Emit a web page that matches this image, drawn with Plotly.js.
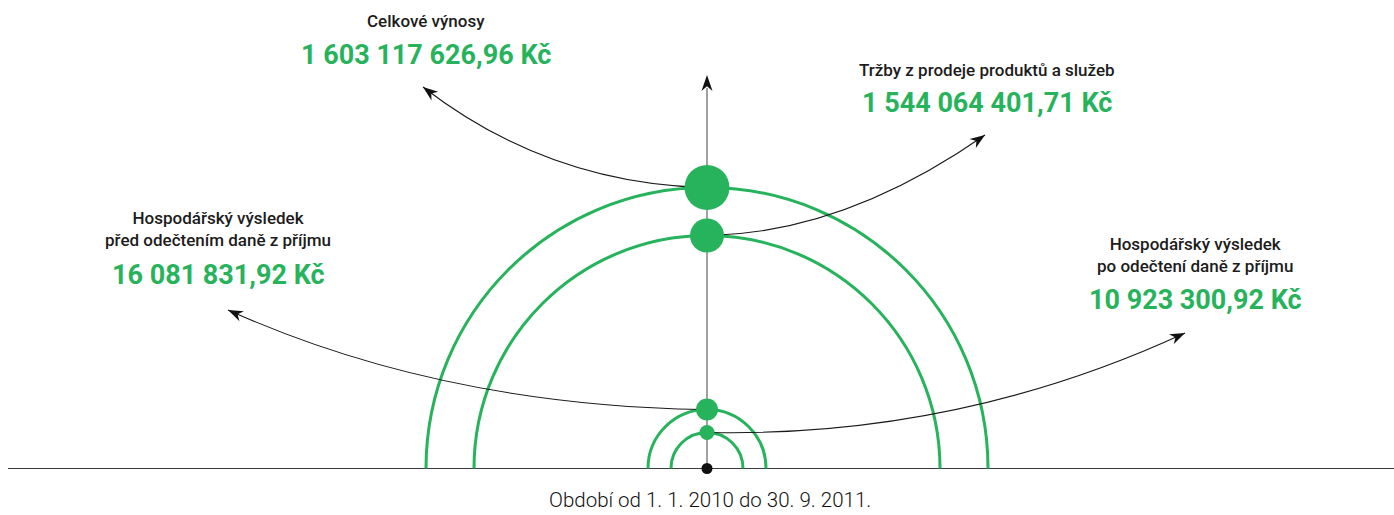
<!DOCTYPE html>
<html><head><meta charset="utf-8">
<script src="https://cdn.plot.ly/plotly-3.0.1.min.js"></script>
<style>html,body{margin:0;padding:0;background:#fff}#chart{width:1394px;height:515px}</style>
</head><body><div id="chart"></div>
<script>
// ---- data ----
const categories = [
  "Celkové výnosy",
  "Tržby z prodeje produktů a služeb",
  "Hospodářský výsledek<br>před odečtením daně z příjmu",
  "Hospodářský výsledek<br>po odečtení daně z příjmu"
];
const values = [1603117626.96, 1544064401.71, 16081831.92, 10923300.92];
const currency = "Kč";
const periodLabel = "Období od 1. 1. 2010 do 30. 9. 2011.";

// ---- geometry / style (not data) ----
const W = 1394, H = 515;
const cx = 707, base = 468.5;
const ringRadius = [281, 233, 59, 36];
const dotSize = [45, 34, 22, 15];
const green = "#27b35c";
// label anchor (centre x, y of first label line, y of value)
const labelPos = [[426, 21, 55], [987, 70, 103], [218, 218, 275], [1195, 244, 300]];
const curveCtrl = [[547, 183], [846, 232], [439, 405], [960, 437]];
const curveTip = [[423, 87], [985, 135], [228, 310], [1185, 333]];

function fmt(v) {
  const [i, d] = v.toFixed(2).split(".");
  return i.replace(/\B(?=(\d{3})+(?!\d))/g, " ") + "," + d + " " + currency;
}

const shapes = [];
const annotations = [];

// baseline
shapes.push({type: "line", x0: 8, x1: W, y0: base, y1: base, line: {color: "#3a3a3a", width: 1.2}, layer: "below"});
// vertical axis
shapes.push({type: "line", x0: cx, x1: cx, y0: base, y1: 88, line: {color: "#8a8a8a", width: 1.6}, layer: "below"});

function arrowHead(tip, dir, L, Wd) {
  const n = Math.hypot(dir[0], dir[1]);
  const ux = dir[0] / n, uy = dir[1] / n;
  const px = -uy, py = ux;
  const bx = tip[0] - ux * L, by = tip[1] - uy * L;
  const nx = tip[0] - ux * L * 0.7, ny = tip[1] - uy * L * 0.7;
  return `M${tip[0]},${tip[1]} L${bx + px * Wd / 2},${by + py * Wd / 2} L${nx},${ny} L${bx - px * Wd / 2},${by - py * Wd / 2} Z`;
}
shapes.push({type: "path", path: arrowHead([cx, 75], [0, -1], 16, 11), fillcolor: "#111", line: {width: 0}});

// rings
const k = 0.5523;
ringRadius.forEach(r => {
  const p = `M${cx - r},${base} C${cx - r},${base - k * r} ${cx - k * r},${base - r} ${cx},${base - r} ` +
            `C${cx + k * r},${base - r} ${cx + r},${base - k * r} ${cx + r},${base}`;
  shapes.push({type: "path", path: p, line: {color: green, width: 3}, layer: "below"});
});

// curves with arrowheads
values.forEach((v, i) => {
  const sy = base - ringRadius[i];
  const side = curveTip[i][0] < cx ? -1 : 1;
  const sx = cx + side * 4;
  const c = curveCtrl[i], t = curveTip[i];
  shapes.push({type: "path", path: `M${sx},${sy} Q${c[0]},${c[1]} ${t[0]},${t[1]}`, line: {color: "#1a1a1a", width: 1.1}, layer: "below"});
  shapes.push({type: "path", path: arrowHead(t, [t[0] - c[0], t[1] - c[1]], 15, 11), fillcolor: "#111", line: {width: 0}});
  const lp = labelPos[i];
  annotations.push({x: lp[0], y: lp[1], text: categories[i], showarrow: false, xanchor: "center", yanchor: "top",
    yshift: 12, align: "center",
    font: {family: "Roboto, 'Open Sans', sans-serif", size: 17, weight: 500, color: "#1c1c1c"}});
  annotations.push({x: lp[0], y: lp[2], text: fmt(v), showarrow: false, xanchor: "center", yanchor: "middle",
    font: {family: "Roboto, 'Open Sans', sans-serif", size: 27, weight: 700, color: green}});
});

annotations.push({x: cx + 3, y: 500, text: periodLabel, showarrow: false, xanchor: "center", yanchor: "middle",
  font: {family: "Roboto, sans-serif", size: 20.5, weight: 300, color: "#111"}});

const traces = [
  {type: "scatter", mode: "markers", x: values.map(() => cx), y: ringRadius.map(r => base - r),
   customdata: values, hovertemplate: "%{customdata}<extra></extra>",
   marker: {color: green, size: dotSize, opacity: 1, line: {width: 0}}},
  {type: "scatter", mode: "markers", x: [cx], y: [base], hoverinfo: "skip",
   marker: {color: "#111", size: 11, opacity: 1}}
];

Plotly.newPlot("chart", traces, {
  width: W, height: H, margin: {l: 0, r: 0, t: 0, b: 0},
  paper_bgcolor: "#fff", plot_bgcolor: "#fff", showlegend: false,
  xaxis: {range: [0, W], visible: false, fixedrange: true},
  yaxis: {range: [H, 0], visible: false, fixedrange: true},
  shapes: shapes, annotations: annotations
}, {displayModeBar: false, staticPlot: true});
</script></body></html>
